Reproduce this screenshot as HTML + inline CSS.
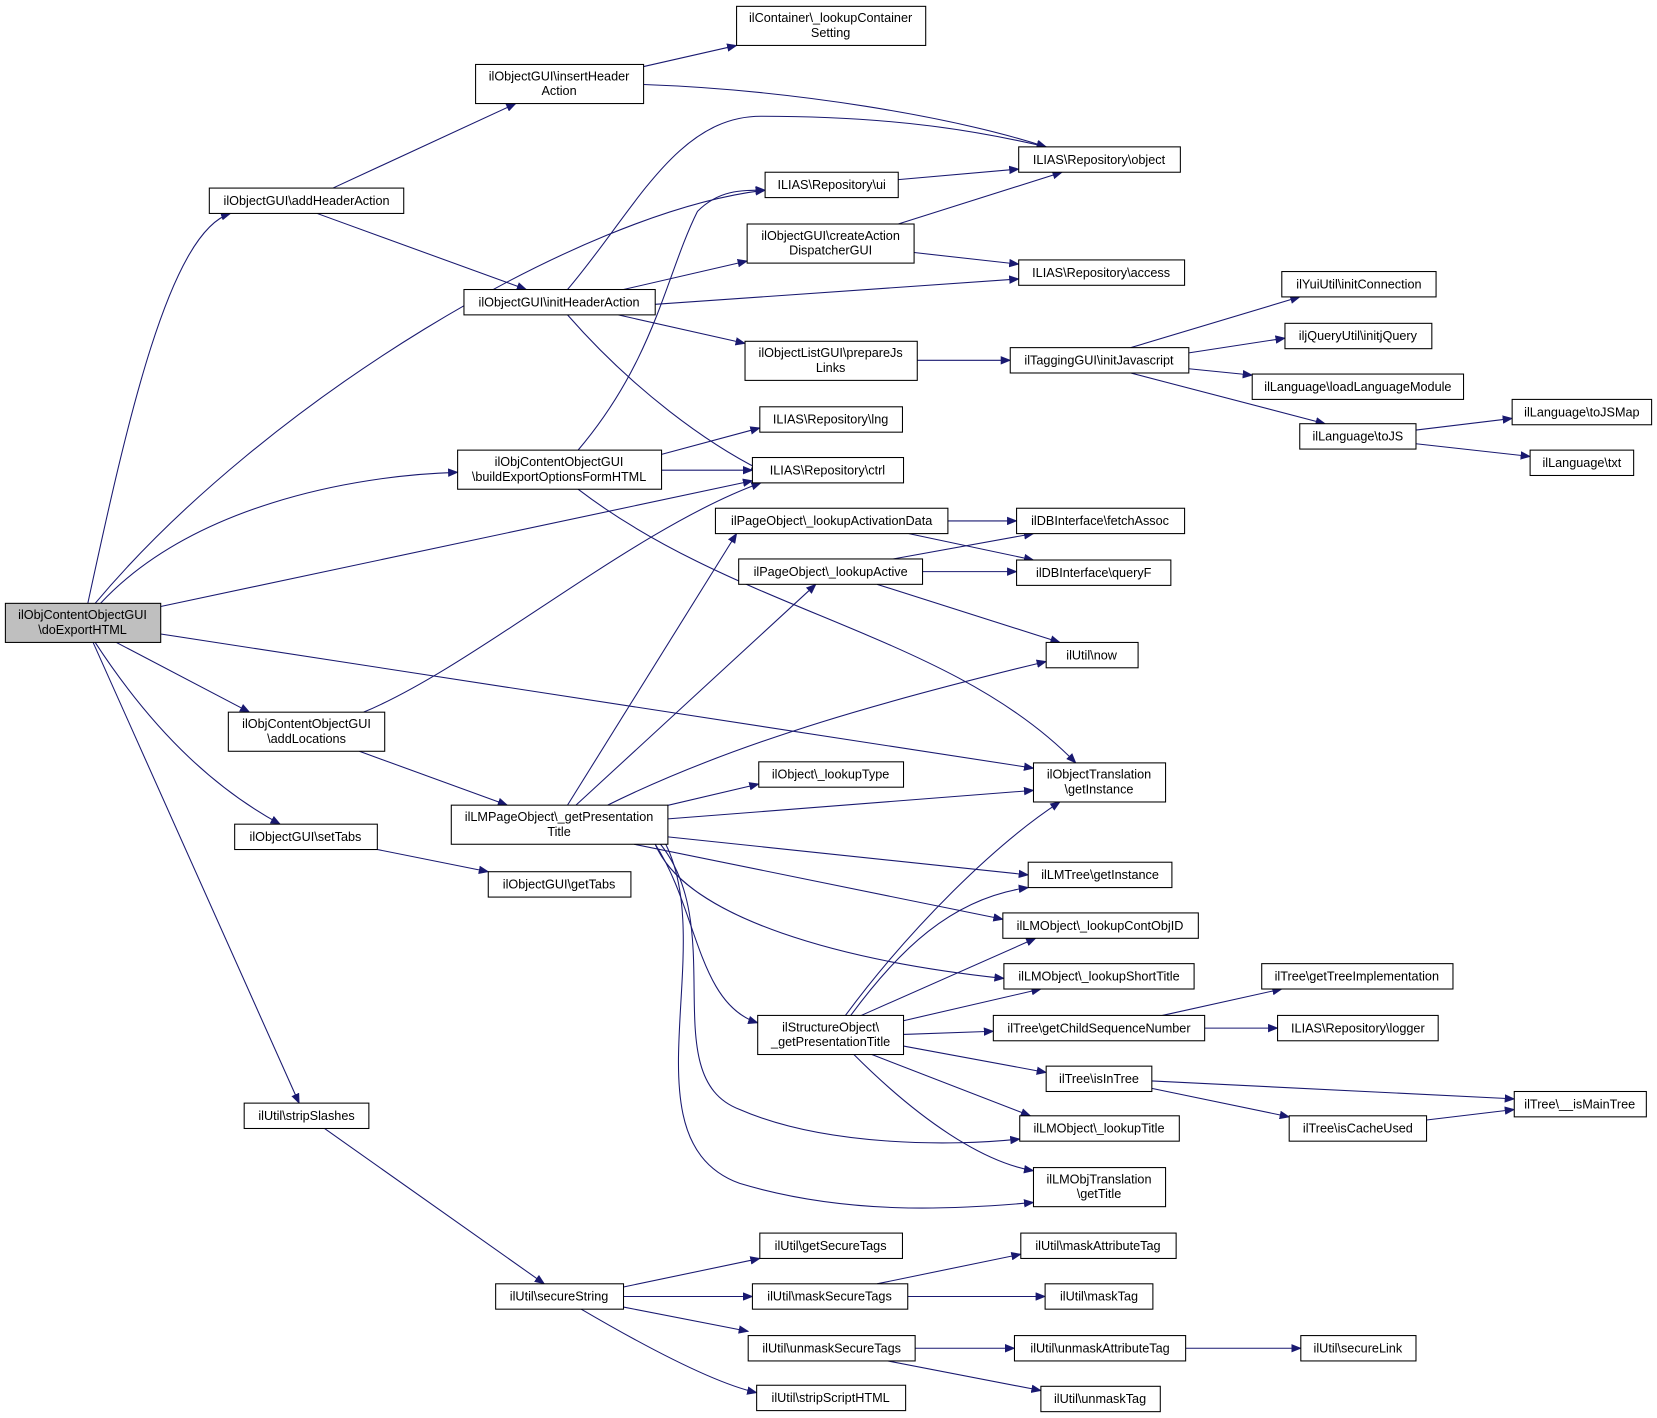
<!DOCTYPE html>
<html><head><meta charset="utf-8"><style>
html,body{margin:0;padding:0;background:#fff;}
svg{display:block;}
text{font-family:"Liberation Sans",Arial,sans-serif;font-size:12px;fill:#000;text-anchor:middle;}
.n{fill:#fff;stroke:#000;stroke-width:1;}
.e{fill:none;stroke:#191970;stroke-width:1;marker-end:url(#a);}
</style></head><body>
<svg width="1657" height="1418" viewBox="0 0 1568 1342" xmlns="http://www.w3.org/2000/svg">
<defs><marker id="a" markerWidth="10" markerHeight="8" refX="9" refY="4" orient="auto" markerUnits="userSpaceOnUse"><path d="M0,0 L10,4 L0,8 Z" fill="#191970"/></marker></defs>
<g>
<path class="e" d="M83,571 C120,400 160,220 218,202"/>
<path class="e" d="M90,571 C250,380 550,200 724,180"/>
<path class="e" d="M95,571 C180,480 330,450 433,447"/>
<path class="e" d="M152,574 L712,455"/>
<path class="e" d="M152,600 L978,727"/>
<path class="e" d="M110,608 L236,674"/>
<path class="e" d="M90,608 C150,700 210,750 265,780"/>
<path class="e" d="M88,608 L283,1044"/>
<path class="e" d="M315,178 L488,98"/>
<path class="e" d="M300,202 L498,274"/>
<path class="e" d="M609,63 L697,43"/>
<path class="e" d="M609,80 C750,85 900,110 990,139"/>
<path class="e" d="M537,274 C600,200 640,110 720,110 C850,110 930,125 990,139"/>
<path class="e" d="M590,274 L707,247"/>
<path class="e" d="M620,288 L964,264"/>
<path class="e" d="M585,298 L705,325"/>
<path class="e" d="M537,298 C600,370 670,420 720,445"/>
<path class="e" d="M850,170 L964,160"/>
<path class="e" d="M850,212 L1005,163"/>
<path class="e" d="M865,239 L964,250"/>
<path class="e" d="M868,341 L956,341"/>
<path class="e" d="M1070,329 L1230,281"/>
<path class="e" d="M1125,334 L1216,320"/>
<path class="e" d="M1125,349 L1185,355"/>
<path class="e" d="M1070,353 L1254,401"/>
<path class="e" d="M1340,407 L1431,396"/>
<path class="e" d="M1340,420 L1448,432"/>
<path class="e" d="M547,426 C620,340 630,260 660,200 C680,180 700,180 724,180"/>
<path class="e" d="M626,430 L719,405"/>
<path class="e" d="M626,445 L712,445"/>
<path class="e" d="M547,463 C700,580 900,600 1018,722"/>
<path class="e" d="M897,493 L962,493"/>
<path class="e" d="M860,505 L978,530"/>
<path class="e" d="M845,529 L978,505"/>
<path class="e" d="M873,541 L962,541"/>
<path class="e" d="M830,553 L1003,608"/>
<path class="e" d="M344,674 C450,630 600,500 720,457"/>
<path class="e" d="M340,711 L480,762"/>
<path class="e" d="M537,762 L697,505"/>
<path class="e" d="M545,762 L772,553"/>
<path class="e" d="M575,762 C700,700 850,660 990,626"/>
<path class="e" d="M620,765 L718,742"/>
<path class="e" d="M632,775 L978,748"/>
<path class="e" d="M632,792 L973,828"/>
<path class="e" d="M600,799 L949,870"/>
<path class="e" d="M620,799 C650,870 800,910 950,926"/>
<path class="e" d="M620,799 C660,860 660,950 717,968"/>
<path class="e" d="M625,799 C690,880 620,1020 700,1050 C780,1085 900,1085 965,1078"/>
<path class="e" d="M630,799 C680,900 590,1080 700,1120 C800,1150 900,1145 978,1138"/>
<path class="e" d="M357,804 L462,825"/>
<path class="e" d="M800,961 C860,880 940,800 1003,759"/>
<path class="e" d="M805,961 C850,900 900,850 973,840"/>
<path class="e" d="M815,961 L980,888"/>
<path class="e" d="M855,966 L985,936"/>
<path class="e" d="M855,979 L940,976"/>
<path class="e" d="M855,990 L990,1015"/>
<path class="e" d="M825,998 L975,1056"/>
<path class="e" d="M808,998 C870,1060 930,1100 978,1108"/>
<path class="e" d="M1100,961 L1213,936"/>
<path class="e" d="M1140,973 L1209,973"/>
<path class="e" d="M1090,1023 L1433,1040"/>
<path class="e" d="M1090,1030 L1220,1057"/>
<path class="e" d="M1350,1060 L1433,1050"/>
<path class="e" d="M307,1068 L515,1215"/>
<path class="e" d="M590,1218 L719,1191"/>
<path class="e" d="M590,1227 L712,1227"/>
<path class="e" d="M590,1237 L708,1260"/>
<path class="e" d="M550,1239 C620,1280 680,1310 716,1318"/>
<path class="e" d="M830,1215 L966,1187"/>
<path class="e" d="M859,1227 L989,1227"/>
<path class="e" d="M866,1276 L960,1276"/>
<path class="e" d="M840,1288 L985,1316"/>
<path class="e" d="M1122,1276 L1231,1276"/>
</g>
<g>
<rect x="5" y="571" width="147" height="37" fill="#bfbfbf" stroke="#000"/><text x="78" y="586">ilObjContentObjectGUI</text><text x="78" y="600">\doExportHTML</text>
<rect class="n" x="198" y="178" width="184" height="24"/><text x="290" y="194">ilObjectGUI\addHeaderAction</text>
<rect class="n" x="450" y="61" width="159" height="37"/><text x="529" y="76">ilObjectGUI\insertHeader</text><text x="529" y="90">Action</text>
<rect class="n" x="697" y="6" width="179" height="37"/><text x="786" y="21">ilContainer\_lookupContainer</text><text x="786" y="35">Setting</text>
<rect class="n" x="964" y="139" width="153" height="24"/><text x="1040" y="155">ILIAS\Repository\object</text>
<rect class="n" x="724" y="163" width="126" height="24"/><text x="787" y="179">ILIAS\Repository\ui</text>
<rect class="n" x="707" y="212" width="158" height="37"/><text x="786" y="227">ilObjectGUI\createAction</text><text x="786" y="241">DispatcherGUI</text>
<rect class="n" x="964" y="246" width="157" height="24"/><text x="1042" y="262">ILIAS\Repository\access</text>
<rect class="n" x="439" y="274" width="181" height="24"/><text x="529" y="290">ilObjectGUI\initHeaderAction</text>
<rect class="n" x="705" y="323" width="163" height="37"/><text x="786" y="338">ilObjectListGUI\prepareJs</text><text x="786" y="352">Links</text>
<rect class="n" x="956" y="329" width="169" height="24"/><text x="1040" y="345">ilTaggingGUI\initJavascript</text>
<rect class="n" x="1213" y="257" width="146" height="24"/><text x="1286" y="273">ilYuiUtil\initConnection</text>
<rect class="n" x="1216" y="306" width="139" height="24"/><text x="1285" y="322">iljQueryUtil\initjQuery</text>
<rect class="n" x="1185" y="354" width="200" height="24"/><text x="1285" y="370">ilLanguage\loadLanguageModule</text>
<rect class="n" x="1230" y="401" width="110" height="24"/><text x="1285" y="417">ilLanguage\toJS</text>
<rect class="n" x="1431" y="378" width="132" height="24"/><text x="1497" y="394">ilLanguage\toJSMap</text>
<rect class="n" x="1448" y="426" width="98" height="24"/><text x="1497" y="442">ilLanguage\txt</text>
<rect class="n" x="719" y="385" width="135" height="24"/><text x="786" y="401">ILIAS\Repository\lng</text>
<rect class="n" x="433" y="426" width="193" height="37"/><text x="529" y="441">ilObjContentObjectGUI</text><text x="529" y="455">\buildExportOptionsFormHTML</text>
<rect class="n" x="712" y="433" width="143" height="24"/><text x="783" y="449">ILIAS\Repository\ctrl</text>
<rect class="n" x="677" y="481" width="220" height="24"/><text x="787" y="497">ilPageObject\_lookupActivationData</text>
<rect class="n" x="962" y="481" width="159" height="24"/><text x="1041" y="497">ilDBInterface\fetchAssoc</text>
<rect class="n" x="699" y="529" width="174" height="24"/><text x="786" y="545">ilPageObject\_lookupActive</text>
<rect class="n" x="962" y="530" width="146" height="24"/><text x="1035" y="546">ilDBInterface\queryF</text>
<rect class="n" x="990" y="608" width="87" height="24"/><text x="1033" y="624">ilUtil\now</text>
<rect class="n" x="216" y="674" width="148" height="37"/><text x="290" y="689">ilObjContentObjectGUI</text><text x="290" y="703">\addLocations</text>
<rect class="n" x="978" y="722" width="125" height="37"/><text x="1040" y="737">ilObjectTranslation</text><text x="1040" y="751">\getInstance</text>
<rect class="n" x="718" y="721" width="137" height="24"/><text x="786" y="737">ilObject\_lookupType</text>
<rect class="n" x="427" y="762" width="205" height="37"/><text x="529" y="777">ilLMPageObject\_getPresentation</text><text x="529" y="791">Title</text>
<rect class="n" x="222" y="780" width="135" height="24"/><text x="289" y="796">ilObjectGUI\setTabs</text>
<rect class="n" x="462" y="825" width="135" height="24"/><text x="529" y="841">ilObjectGUI\getTabs</text>
<rect class="n" x="973" y="816" width="136" height="24"/><text x="1041" y="832">ilLMTree\getInstance</text>
<rect class="n" x="949" y="864" width="185" height="24"/><text x="1041" y="880">ilLMObject\_lookupContObjID</text>
<rect class="n" x="950" y="912" width="180" height="24"/><text x="1040" y="928">ilLMObject\_lookupShortTitle</text>
<rect class="n" x="1194" y="912" width="181" height="24"/><text x="1284" y="928">ilTree\getTreeImplementation</text>
<rect class="n" x="717" y="961" width="138" height="37"/><text x="786" y="976">ilStructureObject\</text><text x="786" y="990">_getPresentationTitle</text>
<rect class="n" x="940" y="961" width="200" height="24"/><text x="1040" y="977">ilTree\getChildSequenceNumber</text>
<rect class="n" x="1209" y="961" width="152" height="24"/><text x="1285" y="977">ILIAS\Repository\logger</text>
<rect class="n" x="990" y="1009" width="100" height="24"/><text x="1040" y="1025">ilTree\isInTree</text>
<rect class="n" x="1433" y="1033" width="125" height="24"/><text x="1495" y="1049">ilTree\__isMainTree</text>
<rect class="n" x="1220" y="1056" width="130" height="24"/><text x="1285" y="1072">ilTree\isCacheUsed</text>
<rect class="n" x="965" y="1056" width="151" height="24"/><text x="1040" y="1072">ilLMObject\_lookupTitle</text>
<rect class="n" x="978" y="1105" width="125" height="37"/><text x="1040" y="1120">ilLMObjTranslation</text><text x="1040" y="1134">\getTitle</text>
<rect class="n" x="231" y="1044" width="118" height="24"/><text x="290" y="1060">ilUtil\stripSlashes</text>
<rect class="n" x="719" y="1167" width="135" height="24"/><text x="786" y="1183">ilUtil\getSecureTags</text>
<rect class="n" x="966" y="1167" width="147" height="24"/><text x="1039" y="1183">ilUtil\maskAttributeTag</text>
<rect class="n" x="469" y="1215" width="121" height="24"/><text x="529" y="1231">ilUtil\secureString</text>
<rect class="n" x="712" y="1215" width="147" height="24"/><text x="785" y="1231">ilUtil\maskSecureTags</text>
<rect class="n" x="989" y="1215" width="102" height="24"/><text x="1040" y="1231">ilUtil\maskTag</text>
<rect class="n" x="708" y="1264" width="158" height="24"/><text x="787" y="1280">ilUtil\unmaskSecureTags</text>
<rect class="n" x="960" y="1264" width="162" height="24"/><text x="1041" y="1280">ilUtil\unmaskAttributeTag</text>
<rect class="n" x="1231" y="1264" width="109" height="24"/><text x="1285" y="1280">ilUtil\secureLink</text>
<rect class="n" x="716" y="1311" width="141" height="24"/><text x="786" y="1327">ilUtil\stripScriptHTML</text>
<rect class="n" x="985" y="1312" width="113" height="24"/><text x="1041" y="1328">ilUtil\unmaskTag</text>
</g>
</svg>
</body></html>
